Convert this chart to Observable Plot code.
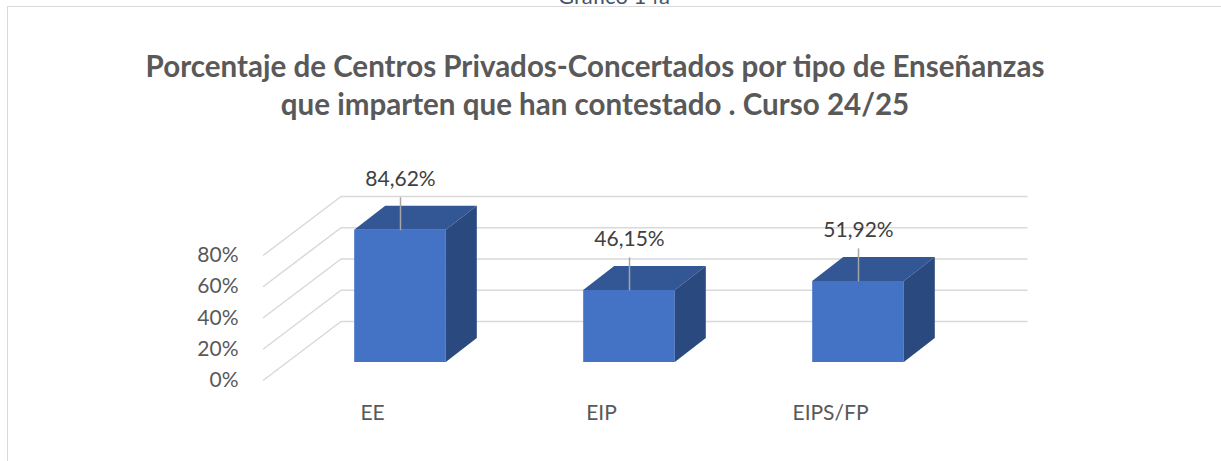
<!DOCTYPE html>
<html>
<head>
<meta charset="utf-8">
<script src="https://cdn.jsdelivr.net/npm/d3@7"></script>
<script src="https://cdn.jsdelivr.net/npm/@observablehq/plot@0.6"></script>
<style>
  html, body { margin: 0; padding: 0; background: #fff; }
  #wrap { position: relative; width: 1221px; height: 461px; overflow: hidden; font-family: Lato, "Open Sans", sans-serif; background: #fff; }
  #frame { position: absolute; left: 7px; top: 6px; width: 1300px; height: 600px; border-left: 1.5px solid #d9d9d9; border-top: 1.5px solid #d9d9d9; }
  .t { position: absolute; left: 0; width: 1190px; text-align: center; white-space: nowrap; }
  #fig { color: #44546a; font-size: 22px; line-height: 22px; width: 1228px; }
  .title { color: #595959; font-weight: bold; }
  #chart { position: absolute; left: 0; top: 140px; }
</style>
</head>
<body>
<div id="wrap">
  <div id="fig" class="t">Gráfico 14a</div>
  <div id="frame"></div>
  <div id="t1" class="t title">Porcentaje de Centros Privados-Concertados por tipo de Enseñanzas</div>
  <div id="t2" class="t title">que imparten que han contestado . Curso 24/25</div>
  <div id="chart"></div>
</div>
<script>
// ---- data ----
const categories = ["EE", "EIP", "EIPS/FP"];
const values = [84.62, 46.15, 51.92];
const yTicks = [0, 20, 40, 60, 80];

// ---- style constants (pixels) ----
const PXU = 229;          // px per category unit
const PYU = 1.5625;       // px per percent
const WALL = [78, 59];    // back-wall depth offset (px)
const BAR_SHIFT = [28, -18]; // bar front-face offset from floor front (px)
const BAR_DEPTH = [31, 24];  // bar depth (px)
const HALF = 0.2;         // half bar width in category units
const LEAD = 33;          // leader length px
const LABEL_UP = 51;      // label center above bar front top px

const WX = WALL[0] / PXU, WY = WALL[1] / PYU;
const BX = BAR_DEPTH[0] / PXU, BY = BAR_DEPTH[1] / PYU;

const table = categories.map((c, i) => ({i, cat: c, value: values[i]}));
const sidePts = table.flatMap(d => [
  {cat: d.cat, x: d.i + HALF, y1: 0, y2: d.value},
  {cat: d.cat, x: d.i + HALF + BX, y1: BY, y2: d.value + BY}
]);
const topPts = table.flatMap(d => [
  {cat: d.cat, y: d.value, x1: d.i - HALF, x2: d.i + HALF},
  {cat: d.cat, y: d.value + BY, x1: d.i - HALF + BX, x2: d.i + HALF + BX}
]);
const fmt = v => v.toFixed(2).replace(".", ",") + "%";

// titles: fit line 1 to measured width
(function () {
  const t1 = document.getElementById("t1"), t2 = document.getElementById("t2"), fig = document.getElementById("fig");
  const ctx = document.createElement("canvas").getContext("2d");
  ctx.font = "bold 30px Lato";
  const w = ctx.measureText(t1.textContent).width;
  const fs = 30 * 900 / w;
  for (const [el, base] of [[t1, 77], [t2, 115]]) {
    el.style.fontSize = fs + "px";
    el.style.lineHeight = fs + "px";
    el.style.top = (base - 0.887 * fs) + "px";
  }
  fig.style.top = (4 - 0.887 * 22) + "px";
})();

const chart = Plot.plot({
  width: 1221,
  height: 300,
  marginLeft: 257.5,
  marginRight: 162,
  marginTop: 83.75,
  marginBottom: 60,
  style: {fontFamily: "Lato, 'Open Sans', sans-serif", fontSize: "21px", color: "#595959", background: "transparent"},
  x: {type: "linear", domain: [-0.5, 3], ticks: [0, 1, 2], tickFormat: i => categories[i], tickSize: 0, tickPadding: 25, label: null},
  y: {domain: [0, 100], ticks: yTicks, tickFormat: d => d + "%", tickSize: 0, tickPadding: 19.5, label: null},
  marks: [
    // side wall diagonals
    Plot.link(yTicks, {x1: -0.5, y1: d => d, x2: -0.5 + WX, y2: d => d + WY, dx: 5, stroke: "#d9d9d9", strokeWidth: 1.5}),
    // back wall gridlines
    Plot.ruleY(yTicks, {y: d => d, x1: -0.5, x2: 2.5, dx: 5 + WALL[0], dy: -WALL[1], stroke: "#d9d9d9", strokeWidth: 1.5}),
    // bars: front, top, side
    Plot.rect(table, {x1: d => d.i - HALF, x2: d => d.i + HALF, y1: 0, y2: "value", fill: "#4472c4", dx: BAR_SHIFT[0], dy: BAR_SHIFT[1]}),
    Plot.areaX(topPts, {y: "y", x1: "x1", x2: "x2", z: "cat", fill: "#335694", dx: BAR_SHIFT[0], dy: BAR_SHIFT[1]}),
    Plot.areaY(sidePts, {x: "x", y1: "y1", y2: "y2", z: "cat", fill: "#2a4a7f", dx: BAR_SHIFT[0], dy: BAR_SHIFT[1]}),
    // leaders and labels
    Plot.link(table, {x1: "i", x2: "i", y1: "value", y2: d => d.value + LEAD / PYU, dx: BAR_SHIFT[0], dy: BAR_SHIFT[1], stroke: "#a6a6a6", strokeWidth: 1.5}),
    Plot.text(table, {x: "i", y: "value", text: d => fmt(d.value), dx: BAR_SHIFT[0], dy: BAR_SHIFT[1] - LABEL_UP, fill: "#404040", fontSize: 21})
  ]
});
document.getElementById("chart").appendChild(chart);
</script>
</body>
</html>
